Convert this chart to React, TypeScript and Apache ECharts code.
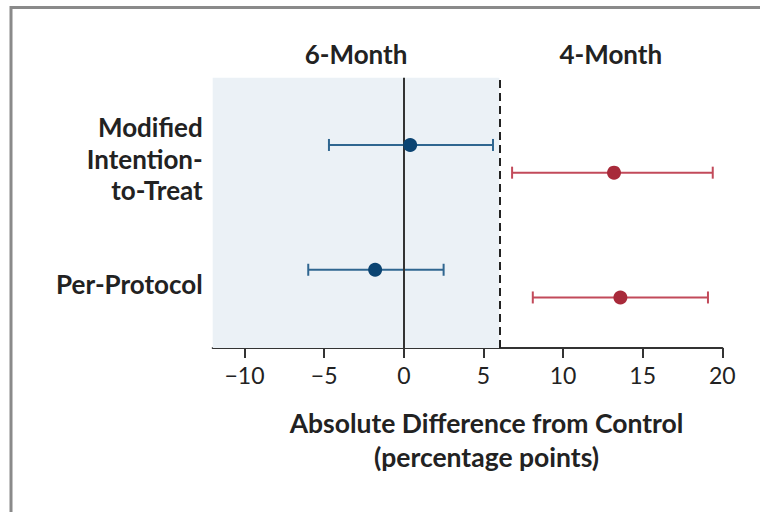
import React, { useEffect, useRef } from "react";
import * as echarts from "echarts";

// Row labels (index = row position on the y scale)
const rowLabels = ["Per-Protocol", "Modified\nIntention-\nto-Treat"];
// 6-Month regimen: point estimate and 95% CI per row
const sixMonthEst = [-1.8, 0.4];
const sixMonthLow = [-6.0, -4.7];
const sixMonthHigh = [2.5, 5.6];
// 4-Month regimen
const fourMonthEst = [13.6, 13.2];
const fourMonthLow = [8.1, 6.8];
const fourMonthHigh = [19.1, 19.4];
// axis
const xTicks = [-10, -5, 0, 5, 10, 15, 20];
const xMin = -12;
const xMax = 20;
const margin = 6;
const periodLabels = ["6-Month", "4-Month"];

const ROW_OFFSET = 0.111;
const FONT = "Lato, 'Open Sans', sans-serif";

function errorBarSeries(name: string, low: number[], high: number[], offset: number, color: string, extra: any = {}) {
  return {
    type: "custom",
    name,
    z: 3,
    data: low.map((l, i) => [i + offset, l, high[i]]),
    encode: { x: [1, 2], y: 0 },
    renderItem: (params: any, api: any) => {
      const y = api.value(0);
      const a = api.coord([api.value(1), y]);
      const b = api.coord([api.value(2), y]);
      const h = 6;
      const style = { stroke: color, lineWidth: 2, fill: "none" };
      return {
        type: "group",
        children: [
          { type: "line", shape: { x1: a[0], y1: a[1], x2: b[0], y2: b[1] }, style },
          { type: "line", shape: { x1: a[0], y1: a[1] - h, x2: a[0], y2: a[1] + h }, style },
          { type: "line", shape: { x1: b[0], y1: b[1] - h, x2: b[0], y2: b[1] + h }, style },
        ],
      };
    },
    ...extra,
  };
}

export default function App() {
  const ref = useRef<HTMLDivElement>(null);
  useEffect(() => {
    document.body.style.margin = "0";
    const chart = echarts.init(ref.current!, undefined, { renderer: "svg" });
    const labelStyle = {
      show: true,
      position: "top",
      distance: 11,
      fontFamily: FONT,
      fontSize: 26,
      fontWeight: "bold",
      color: "#222",
    };
    chart.setOption({
      animation: false,
      backgroundColor: "#fff",
      textStyle: { fontFamily: FONT },
      grid: { left: 212.7, right: 37.7, top: 77.7, bottom: 164 },
      xAxis: {
        type: "value",
        min: xMin,
        max: xMax,
        name: "Absolute Difference from Control\n(percentage points)",
        nameLocation: "middle",
        nameGap: 58,
        nameTextStyle: {
          fontFamily: FONT,
          fontSize: 26.5,
          fontWeight: "bold",
          color: "#222",
          lineHeight: 34,
          padding: [0, 0, 0, 38],
        },
        axisLine: { show: true, onZero: false, lineStyle: { color: "#333", width: 2 } },
        axisTick: { show: true, length: 10, lineStyle: { color: "#333", width: 2 }, customValues: xTicks },
        axisLabel: {
          customValues: xTicks,
          margin: 15,
          fontFamily: FONT,
          fontSize: 23,
          color: "#222",
          formatter: (v: number) => (v < 0 ? "\u2212" + Math.abs(v) : String(v)),
        },
        splitLine: { show: false },
      },
      yAxis: {
        type: "value",
        min: -0.516,
        max: 1.65,
        axisLine: { show: false },
        axisTick: { show: false },
        splitLine: { show: false },
        axisLabel: {
          customValues: [0, 1],
          margin: 10,
          fontFamily: FONT,
          fontSize: 26,
          fontWeight: "bold",
          color: "#222",
          lineHeight: 31.5,
          align: "right",
          formatter: (v: number) => rowLabels[Math.round(v)] ?? "",
        },
      },
      graphic: [
        {
          type: "rect",
          z: 100,
          shape: { x: 11, y: 7.5, width: 820, height: 600 },
          style: { fill: "none", stroke: "#8a8a8a", lineWidth: 3 },
          silent: true,
        },
      ],
      series: [
        errorBarSeries("6-Month CI", sixMonthLow, sixMonthHigh, ROW_OFFSET, "#2f6690", {
          markArea: {
            silent: true,
            itemStyle: { color: "#ebf1f6" },
            label: labelStyle,
            data: [
              [{ xAxis: xMin, name: periodLabels[0] }, { xAxis: margin }],
              [{ xAxis: margin, name: periodLabels[1], itemStyle: { color: "rgba(0,0,0,0)" } }, { xAxis: xMax }],
            ],
          },
          markLine: {
            silent: true,
            symbol: "none",
            label: { show: false },
            data: [
              { xAxis: 0, lineStyle: { color: "#333", width: 2, type: "solid" } },
              { xAxis: margin, lineStyle: { color: "#222", width: 2, type: [8, 5] } },
            ],
          },
        }),
        errorBarSeries("4-Month CI", fourMonthLow, fourMonthHigh, -ROW_OFFSET, "#c24a5a"),
        {
          type: "scatter",
          name: "6-Month",
          z: 5,
          symbolSize: 14,
          itemStyle: { color: "#0b4472", opacity: 1 },
          data: sixMonthEst.map((v, i) => [v, i + ROW_OFFSET]),
        },
        {
          type: "scatter",
          name: "4-Month",
          z: 5,
          symbolSize: 14,
          itemStyle: { color: "#a82a3a", opacity: 1 },
          data: fourMonthEst.map((v, i) => [v, i - ROW_OFFSET]),
        },
      ],
    });
    return () => chart.dispose();
  }, []);
  return <div ref={ref} style={{ width: 760, height: 512 }} />;
}
